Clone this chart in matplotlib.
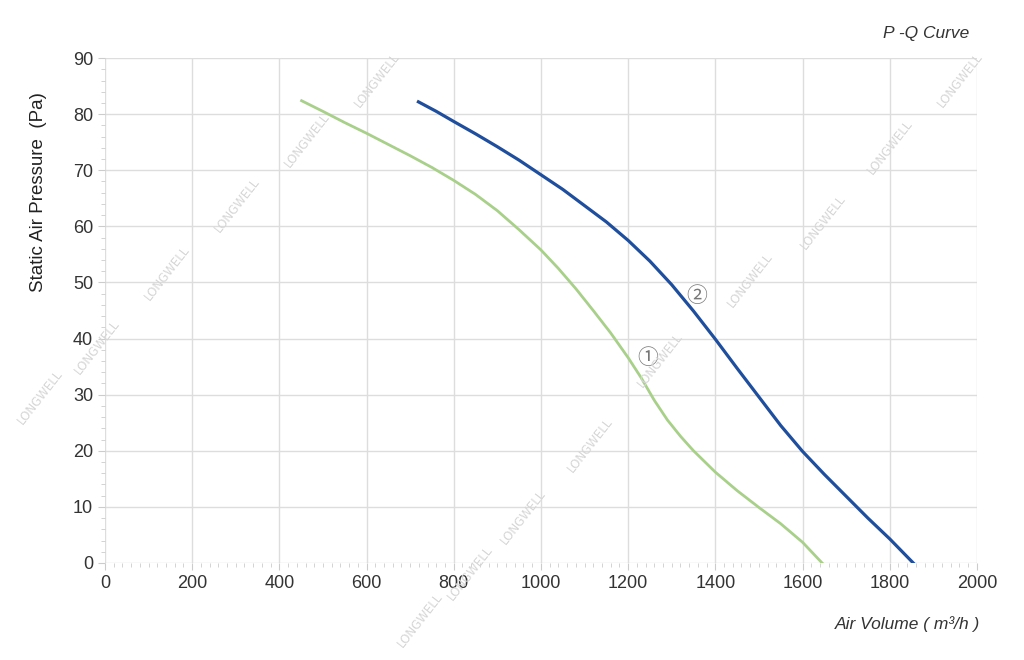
import numpy as np
import matplotlib.pyplot as plt
from matplotlib.ticker import MultipleLocator

plt.rcParams['font.family'] = ['Liberation Sans', 'DejaVu Sans']

# curve 1 (green)
q1 = [451, 500, 550, 600, 650, 700, 750, 800, 850, 900, 950, 1000, 1040, 1080, 1120, 1160, 1200, 1230, 1260, 1290, 1320, 1350, 1400, 1450, 1500, 1550, 1600, 1645]
p1 = [82.4, 80.5, 78.5, 76.6, 74.6, 72.6, 70.5, 68.2, 65.7, 62.8, 59.4, 55.8, 52.5, 48.9, 45.0, 41.0, 36.6, 33.0, 29.0, 25.5, 22.6, 20.0, 16.2, 12.9, 9.9, 7.0, 3.7, 0]
# curve 2 (blue)
q2 = [719, 760, 800, 850, 900, 950, 1000, 1050, 1100, 1150, 1200, 1250, 1300, 1350, 1400, 1450, 1500, 1550, 1600, 1650, 1700, 1750, 1800, 1854]
p2 = [82.2, 80.5, 78.7, 76.5, 74.2, 71.8, 69.2, 66.6, 63.7, 60.8, 57.5, 53.8, 49.6, 44.9, 39.9, 34.7, 29.6, 24.5, 19.9, 15.8, 11.9, 8.0, 4.3, 0]

fig = plt.figure(figsize=(10.24, 6.6), dpi=100)
ax = fig.add_axes([0.1025, 0.147, 0.8515, 0.765])

ax.plot(q1, p1, color='#a8d08a', lw=2, solid_joinstyle='round')
ax.plot(q2, p2, color='#1f4e9c', lw=2.3, solid_joinstyle='round')

ax.text(1245, 36.5, '①', fontsize=15, color='#777777', ha='center', va='center',
        family=['Noto Sans CJK SC', 'DejaVu Sans'])
ax.text(1358, 47.6, '②', fontsize=15, color='#777777', ha='center', va='center',
        family=['Noto Sans CJK SC', 'DejaVu Sans'])

# watermark
wm = [(40, 397), (97, 347), (167, 273), (237, 205), (307, 140), (377, 80),
      (420, 620), (470, 573), (523, 517), (590, 445), (660, 360), (750, 280),
      (823, 222), (890, 147), (960, 80)]
for x, y in wm:
    fig.text(x / 1024, 1 - y / 660, 'LONGWELL', rotation=52, fontsize=8.5, color='#d6d6d6',
             ha='center', va='center', zorder=0, family='DejaVu Sans')

ax.set_xlim(0, 2000)
ax.set_ylim(0, 90)
ax.xaxis.set_major_locator(MultipleLocator(200))
ax.xaxis.set_minor_locator(MultipleLocator(20))
ax.yaxis.set_major_locator(MultipleLocator(10))
ax.yaxis.set_minor_locator(MultipleLocator(2))
ax.grid(True, which='major', color='#dddddd', lw=1)
ax.set_axisbelow(True)
ax.patch.set_alpha(0)
for s in ax.spines.values():
    s.set_visible(False)
ax.tick_params(which='both', colors='#cccccc', labelcolor='#333333', labelsize=13)
ax.tick_params(which='major', length=5)
ax.tick_params(which='minor', length=3)

ax.set_ylabel('Static Air Pressure  (Pa)', fontsize=13.5, color='#222222')
ax.yaxis.set_label_coords(-0.066, 0.735)
fig.text(0.957, 0.047, 'Air Volume ( m³/h )', fontsize=12.5, style='italic', color='#333333', ha='right')
fig.text(0.947, 0.942, 'P -Q Curve', fontsize=12.5, style='italic', color='#333333', ha='right')

fig.savefig('out.png', dpi=100, facecolor='white')
